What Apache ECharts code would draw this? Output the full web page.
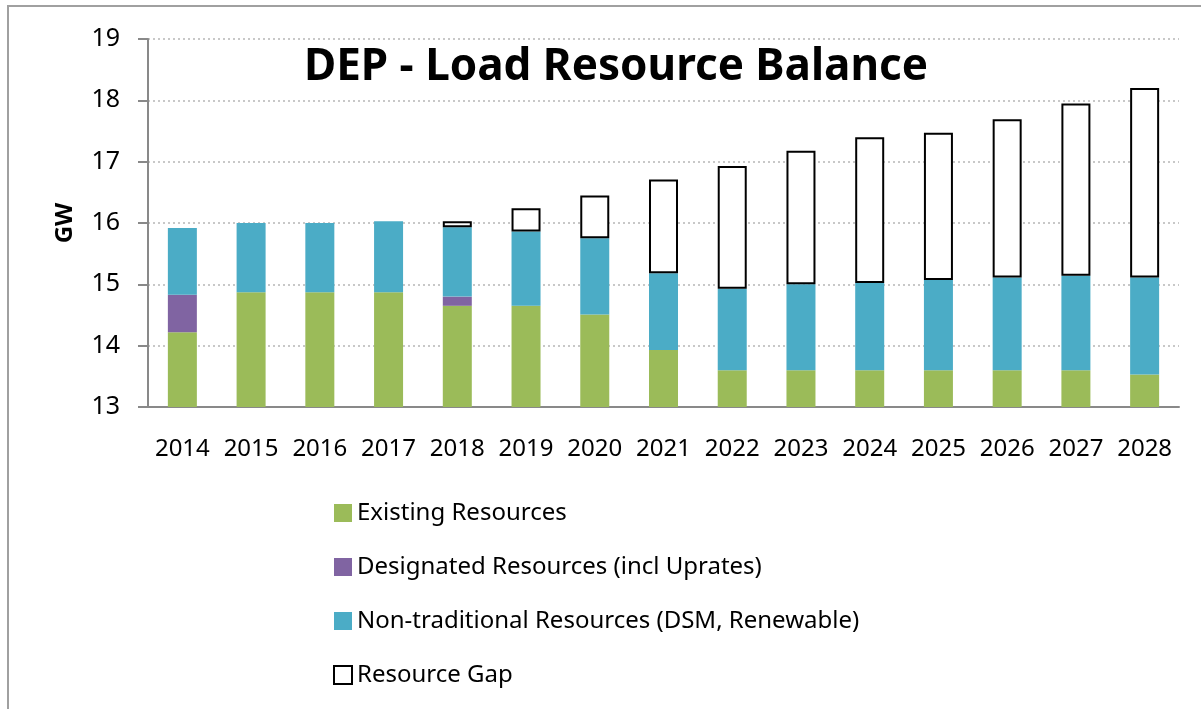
<!DOCTYPE html>
<html>
<head>
<meta charset="utf-8">
<script src="https://cdn.jsdelivr.net/npm/echarts@6/dist/echarts.min.js"></script>
<style>
  html, body { margin: 0; padding: 0; background: #fff; }
  #c { width: 1201px; height: 709px; }
</style>
</head>
<body>
<div id="c"></div>
<script>
(() => {
  "use strict";
  const years = ["2014", "2015", "2016", "2017", "2018", "2019", "2020", "2021", "2022", "2023", "2024", "2025", "2026", "2027", "2028"];
  // stacked pieces, GW (null = no segment that year)
  const existing   = [14.22, 14.87, 14.87, 14.87, 14.65, 14.65, 14.51, 13.93, 13.60, 13.60, 13.60, 13.60, 13.60, 13.60, 13.53];
  const designated = [0.61, null, null, null, 0.15, null, null, null, null, null, null, null, null, null, null];
  const nontrad    = [1.09, 1.13, 1.13, 1.16, 1.13, 1.21, 1.24, 1.25, 1.33, 1.40, 1.42, 1.47, 1.51, 1.54, 1.58];
  const gap        = [null, null, null, null, 0.10, 0.38, 0.70, 1.53, 2.00, 2.18, 2.38, 2.40, 2.58, 2.81, 3.09];
  const yTicks = { min: 13, max: 19, step: 1 };

  const FONT = "'Noto Sans', sans-serif";
  const chart = echarts.init(document.getElementById("c"));
  const bar = (name, data, color, extra) => Object.assign({
    name, type: "bar", stack: "total", data, barWidth: 29,
    itemStyle: { color }, emphasis: { disabled: true }
  }, extra || {});

  chart.setOption({
    animation: false,
    title: {
      text: "DEP - Load Resource Balance", left: 611, top: 40, textAlign: "center",
      textStyle: { fontFamily: FONT, fontWeight: "bold", fontSize: 44, color: "#000" }
    },
    grid: { left: 148, right: 22, top: 39, bottom: 302 },
    legend: {
      orient: "vertical", left: 328, top: 496, height: 220, itemWidth: 18, itemHeight: 18, itemGap: 30,
      icon: "rect",
      textStyle: { fontFamily: FONT, fontSize: 24, color: "#000" },
      data: ["Existing Resources", "Designated Resources (incl Uprates)", "Non-traditional Resources (DSM, Renewable)", "Resource Gap"]
    },
    xAxis: {
      type: "category", data: years,
      axisLine: { lineStyle: { color: "#898989", width: 2 } },
      axisTick: { length: 10, lineStyle: { color: "#898989", width: 2 } },
      axisLabel: { interval: 0, fontFamily: FONT, fontSize: 24, color: "#000", margin: 30 }
    },
    yAxis: {
      type: "value", min: yTicks.min, max: yTicks.max, interval: yTicks.step,
      name: "GW", nameLocation: "middle", nameGap: 71, nameRotate: 90,
      nameTextStyle: { fontFamily: FONT, fontWeight: "bold", fontSize: 24, color: "#000" },
      axisLine: { show: true, lineStyle: { color: "#898989", width: 2 } },
      axisTick: { show: true, length: 10, lineStyle: { color: "#898989", width: 2 } },
      axisLabel: { fontFamily: FONT, fontSize: 25, color: "#000", margin: 28 },
      splitLine: { lineStyle: { color: "#c8c8c8", type: [2, 3], width: 2 } }
    },
    series: [
      bar("Existing Resources", existing, "#9bbb59"),
      bar("Designated Resources (incl Uprates)", designated, "#8064a2"),
      bar("Non-traditional Resources (DSM, Renewable)", nontrad, "#4bacc6"),
      bar("Resource Gap", gap, "#fff", { itemStyle: { color: "#fff", borderColor: "#000", borderWidth: 2 } })
    ],
    graphic: [{
      type: "rect", shape: { x: 8, y: 6, width: 1200, height: 710 },
      style: { fill: "none", stroke: "#a0a0a0", lineWidth: 2 }, silent: true
    }]
  });
})();
</script>
</body>
</html>
